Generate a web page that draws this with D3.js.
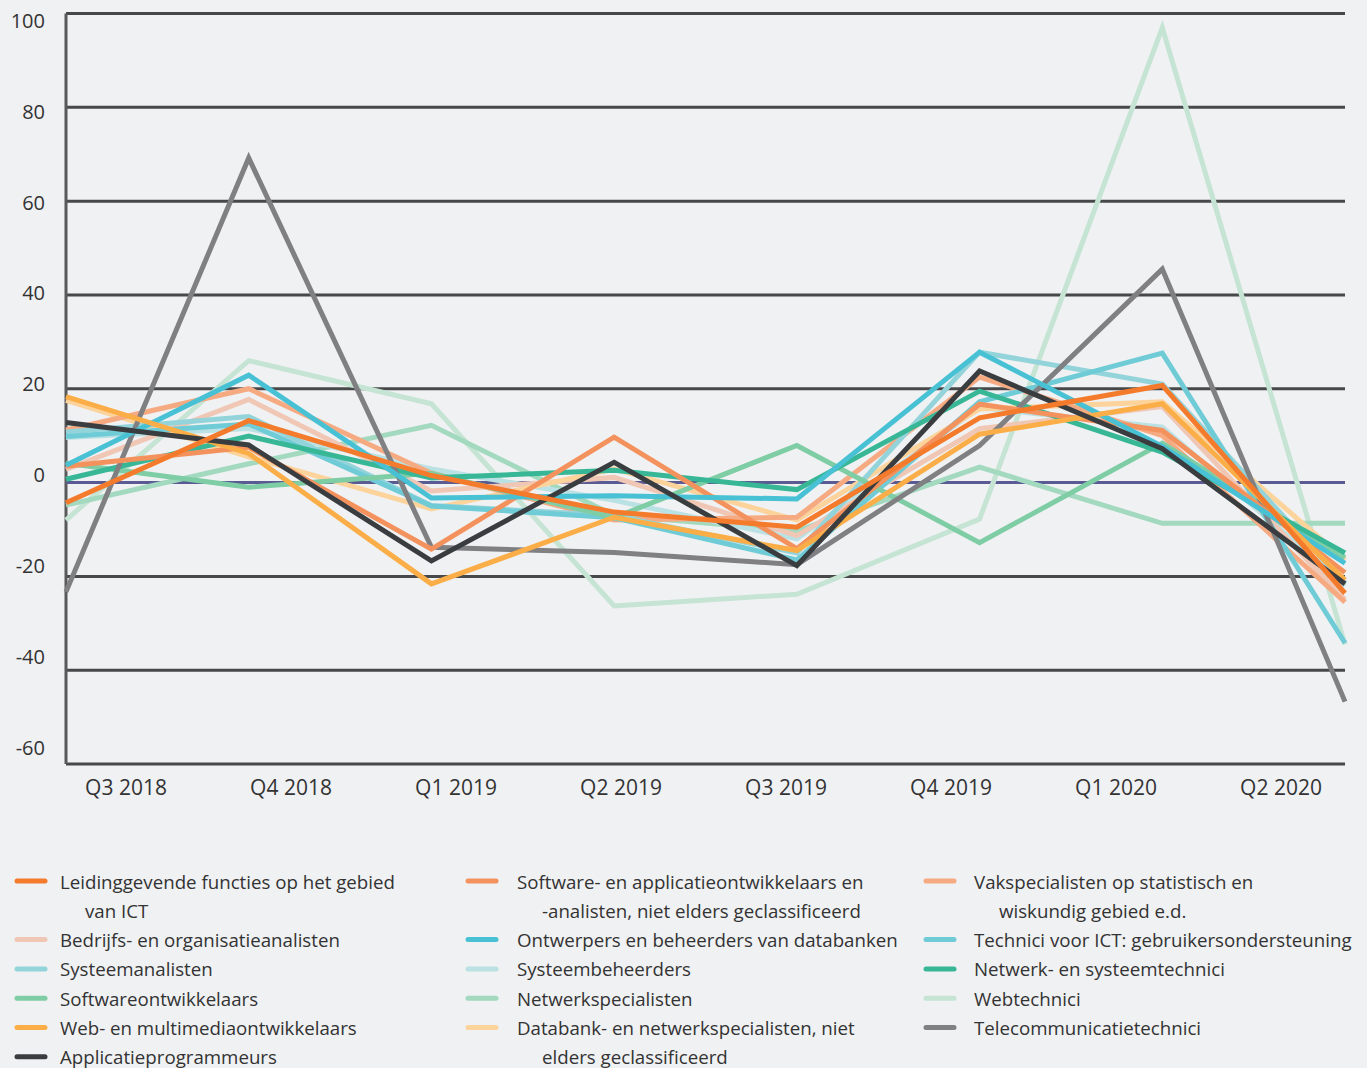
<!DOCTYPE html>
<html>
<head>
<meta charset="utf-8">
<script src="https://cdn.jsdelivr.net/npm/d3@7"></script>
<style>
  body { margin: 0; background: #f0f1f3; }
  svg { display: block; font-family: "Open Sans", sans-serif; }
</style>
</head>
<body>
<div id="chart"></div>
<script>
// quarters on the x axis
var quarters = ["Q3 2018", "Q4 2018", "Q1 2019", "Q2 2019", "Q3 2019", "Q4 2019", "Q1 2020", "Q2 2020"];
var yTicks = [100, 80, 60, 40, 20, 0, -20, -40, -60];

// series values, one per quarter
var leidinggevende    = [-4.3, 13.2, 1.5, -6.3, -9.5, 13.8, 20.7, -23.6];
var bedrijfsanalisten = [2.8, 17.7, -1.8, 1.1, -11.3, 11.5, 16.2, -25];
var systeemanalisten  = [10.8, 14.1, -4.9, -7, -15, 27.8, 21, -21.5];
var softwareontw      = [4.1, -1, 2, -7.5, 7.9, -12.8, 8.4, -16];
var webMultimedia     = [18.3, 6.2, -21.6, -7.4, -14.5, 10.3, 16.8, -20.8];
var applicatieprog    = [12.8, 8, -16.7, 4.3, -17.7, 23.8, 7.2, -21.6];
var softwareNeg       = [3.5, 7.5, -14.2, 9.7, -14.1, 16.7, 11.1, -19.2];
var ontwerpersDb      = [3.7, 22.9, -3.3, -2.8, -3.5, 27.8, 7.7, -17.2];
var systeembeheerders = [9.6, 11.5, 2.9, -3.8, -12, 16, 11.8, -22];
var netwerkspec       = [-4.8, 4, 12.2, -7, -10.3, 3.3, -8.7, -8.7];
var databankNeg       = [17.5, 5.5, -5.6, 2.9, -8, 15.7, 17.2, -16.5];
var vakspecialisten   = [11.2, 20, 2, -8, -7.4, 22.5, 10, -25.5];
var techniciIct       = [9.8, 12.5, -5, -7.5, -16.5, 17.2, 27.6, -34.2];
var netwerkSysTech    = [0.7, 9.9, 1, 2.6, -1.5, 19.5, 6.5, -15];
var webtechnici       = [-8, 26, 16.8, -26.3, -23.8, -7.8, 97, -34.5];
var telecom           = [-23.3, 69.2, -13.8, -14.9, -17.5, 7.9, 45.5, -46.7];

// legend columns (names split where the legend wraps them)
var legendCol1 = [
  { name: ["Leidinggevende functies op het gebied", "van ICT"], color: "#f47a2c", values: leidinggevende },
  { name: ["Bedrijfs- en organisatieanalisten"], color: "#f0c6b4", values: bedrijfsanalisten },
  { name: ["Systeemanalisten"], color: "#93d3da", values: systeemanalisten },
  { name: ["Softwareontwikkelaars"], color: "#7ecda5", values: softwareontw },
  { name: ["Web- en multimediaontwikkelaars"], color: "#fbad47", values: webMultimedia },
  { name: ["Applicatieprogrammeurs"], color: "#3a3d3f", values: applicatieprog }
];
var legendCol2 = [
  { name: ["Software- en applicatieontwikkelaars en", "-analisten, niet elders geclassificeerd"], color: "#f4925e", values: softwareNeg },
  { name: ["Ontwerpers en beheerders van databanken"], color: "#47c1d3", values: ontwerpersDb },
  { name: ["Systeembeheerders"], color: "#bae1e4", values: systeembeheerders },
  { name: ["Netwerkspecialisten"], color: "#a2d9bf", values: netwerkspec },
  { name: ["Databank- en netwerkspecialisten, niet", "elders geclassificeerd"], color: "#fdd39c", values: databankNeg }
];
var legendCol3 = [
  { name: ["Vakspecialisten op statistisch en", "wiskundig gebied e.d."], color: "#f6aa82", values: vakspecialisten },
  { name: ["Technici voor ICT: gebruikersondersteuning"], color: "#6fcbd5", values: techniciIct },
  { name: ["Netwerk- en systeemtechnici"], color: "#37b796", values: netwerkSysTech },
  { name: ["Webtechnici"], color: "#c5e4d4", values: webtechnici },
  { name: ["Telecommunicatietechnici"], color: "#808083", values: telecom }
];

// drawing order, last one on top
var drawOrder = [webtechnici, netwerkspec, systeembeheerders, bedrijfsanalisten, databankNeg,
  vakspecialisten, systeemanalisten, techniciIct, softwareontw, netwerkSysTech, telecom,
  softwareNeg, ontwerpersDb, webMultimedia, applicatieprog, leidinggevende];

var width = 1367, height = 1068;
var allSeries = legendCol1.concat(legendCol2, legendCol3);

var svg = d3.select("#chart").append("svg")
    .attr("width", width)
    .attr("height", height);

var x = d3.scalePoint().domain(quarters).range([66, 1345]);
var y = d3.scaleLinear().domain([-60, 100]).range([764, 13.5]);
// tick labels sit on a slightly tighter spacing than the grid in the original
var xLabel = d3.scalePoint().domain(quarters).range([126, 1281]);
var yLabel = d3.scaleLinear().domain([-60, 100]).range([747, 20.5]);

// gridlines
svg.selectAll("line.grid")
    .data(yTicks.filter(function(d) { return d !== 0; }))
    .enter().append("line")
    .attr("class", "grid")
    .attr("x1", 66)
    .attr("x2", 1345)
    .attr("y1", function(d) { return y(d); })
    .attr("y2", function(d) { return y(d); })
    .style("stroke", "#474849")
    .style("stroke-width", 3);

// y axis line
svg.append("line")
    .attr("x1", 66).attr("x2", 66)
    .attr("y1", y(100)).attr("y2", y(-60))
    .style("stroke", "#58595b")
    .style("stroke-width", 3);

// zero line
svg.append("line")
    .attr("x1", 66).attr("x2", 1345)
    .attr("y1", y(0)).attr("y2", y(0))
    .style("stroke", "#5a5b92")
    .style("stroke-width", 3);

// y labels
svg.selectAll("text.ylabel")
    .data(yTicks)
    .enter().append("text")
    .attr("class", "ylabel")
    .attr("x", 45)
    .attr("y", function(d) { return yLabel(d); })
    .attr("text-anchor", "end")
    .attr("dominant-baseline", "central")
    .style("font-size", "20px")
    .style("fill", "#333")
    .text(function(d) { return d; });

// x labels
svg.selectAll("text.xlabel")
    .data(quarters)
    .enter().append("text")
    .attr("class", "xlabel")
    .attr("x", function(d) { return xLabel(d); })
    .attr("y", 787)
    .attr("text-anchor", "middle")
    .attr("dominant-baseline", "central")
    .style("font-size", "21px")
    .style("fill", "#333")
    .text(function(d) { return d; });

var line = d3.line()
    .x(function(d, i) { return x(quarters[i]); })
    .y(function(d) { return y(d); });

function colorOf(values) {
    return allSeries.filter(function(s) { return s.values === values; })[0].color;
}

svg.selectAll("path.series")
    .data(drawOrder)
    .enter().append("path")
    .attr("class", "series")
    .attr("d", line)
    .style("fill", "none")
    .style("stroke", function(d) { return colorOf(d); })
    .style("stroke-width", 5)
    .style("stroke-linejoin", "miter")
    .style("stroke-linecap", "butt");

// legend, each column flows on its own
var lineStep = 29.3;
function makeLegendColumn(items, swatchX, textX) {
    var row = 0;
    items.forEach(function(item) {
        var cy = 881 + row * lineStep;
        svg.append("line")
            .attr("x1", swatchX).attr("x2", swatchX + 28)
            .attr("y1", cy).attr("y2", cy)
            .style("stroke", item.color)
            .style("stroke-width", 5)
            .style("stroke-linecap", "round");
        item.name.forEach(function(txt, k) {
            svg.append("text")
                .attr("x", k === 0 ? textX : textX + 25)
                .attr("y", cy + k * lineStep)
                .attr("dominant-baseline", "central")
                .style("font-size", "18.7px")
                .style("fill", "#333")
                .text(txt);
        });
        row += item.name.length;
    });
}

makeLegendColumn(legendCol1, 17, 60);
makeLegendColumn(legendCol2, 468, 517);
makeLegendColumn(legendCol3, 926, 974);
</script>
</body>
</html>
